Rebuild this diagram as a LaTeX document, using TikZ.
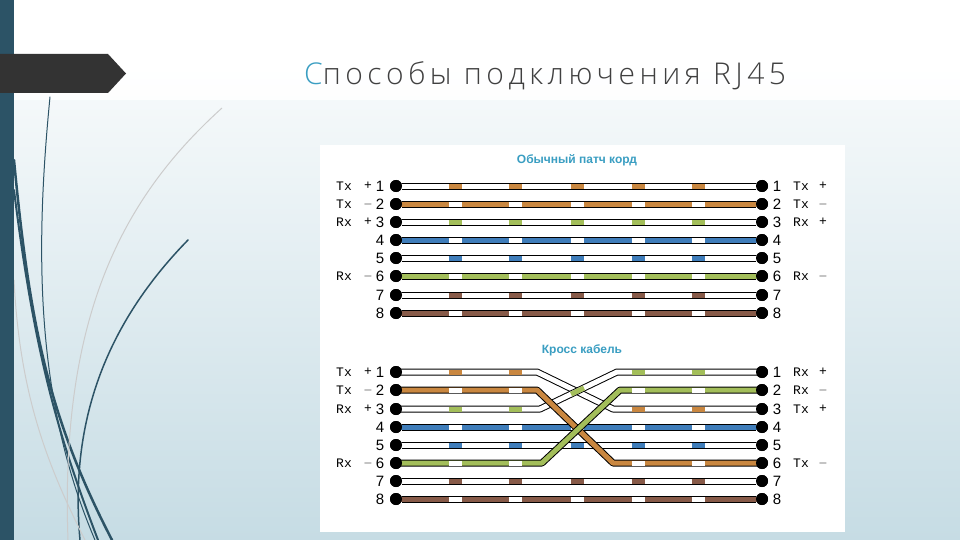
\documentclass[tikz,border=0pt]{standalone}
\usepackage{fontspec}
\setmainfont{Liberation Sans}
\newfontfamily\titlefont[LetterSpace=15]{Open Sans Light}
\newfontfamily\monof{Liberation Mono}
\definecolor{bgtop}{HTML}{FFFFFF}
\definecolor{bgbot}{HTML}{C6DCE4}
\definecolor{barcol}{HTML}{2C5366}
\definecolor{bannercol}{HTML}{333333}
\definecolor{teal}{HTML}{3A9EC2}
\definecolor{wor}{HTML}{C98740}
\definecolor{wgr}{HTML}{A3BE5A}
\definecolor{wbl}{HTML}{3F7DBA}
\definecolor{wbr}{HTML}{875A48}
\tikzset{
  pin/.style={circle,fill=black,inner sep=0pt,minimum size=12pt},
  outer/.style={black,line width=7pt,line join=round},
  inner/.style={line width=5pt,line join=round},
  lab/.style={font=\monof\fontsize{13}{13}\selectfont,inner sep=0pt},
  num/.style={font=\fontsize{15}{15}\selectfont,inner sep=0pt},
  ttl/.style={font=\bfseries\fontsize{12}{12}\selectfont,text=teal},
  leaf/.style={barcol,line cap=round},
}
\newcommand{\stripes}[3]{% y, color, list
  \foreach \sx in {#3} {\draw[inner,#2] (\sx-6.5,#1)--(\sx+6.5,#1);}}
\begin{document}
\begin{tikzpicture}[x=1pt,y=-1pt]
\useasboundingbox (0,0) rectangle (960,540);
\shade[top color=bgtop,bottom color=bgbot] (0,0) rectangle (960,540);
\fill[white] (0,0) rectangle (960,60);
\shade[top color=white,bottom color=white!97!bgbot] (0,60) rectangle (960,100);
% leaves
\draw[leaf,line width=1pt] (50,97) .. controls (35,250) and (35,400) .. (95,540);
\draw[leaf,line width=2.5pt] (14,160) .. controls (30,330) and (50,420) .. (112,540);
\draw[leaf,line width=2pt] (14,190) .. controls (35,360) and (60,440) .. (98,540);
\draw[leaf,line width=1.5pt] (188,240) .. controls (100,330) and (70,430) .. (80,540);
\draw[gray!40,line width=1pt] (222,108) .. controls (120,200) and (60,320) .. (68,540);
\draw[gray!40,line width=1pt] (14,280) .. controls (20,400) and (50,470) .. (85,540);
\fill[barcol] (0,0) rectangle (14,540);
\fill[bannercol] (0,54) -- (108,54) -- (126,73.5) -- (108,93) -- (0,93) -- cycle;
\node[anchor=base west,inner sep=0pt,font=\titlefont\fontsize{30}{30}\selectfont,text=black!75] (title) at (304,85) {{\color{teal}С}пособы подключения RJ45};
% panel
\fill[white] (320,145) rectangle (845,532);
\node[ttl] (t1) at (577,160) {Обычный патч корд};
\node[ttl] (t2) at (582,350) {Кросс кабель};
% straight cable
\foreach \i/\y/\base/\sc in {1/186/white/wor,2/204/wor/white,3/222/white/wgr,4/240/wbl/white,5/258/white/wbl,6/276/wgr/white,7/295/white/wbr,8/313/wbr/white}{
  \node[pin] (a\i) at (396,\y) {};
  \node[pin] (b\i) at (762,\y) {};
  \draw[outer] (a\i)--(b\i);
  \draw[inner,\base] (a\i.center)--(b\i.center);
  \stripes{\y}{\sc}{455,515,577,638,698}
  \node[pin] at (396,\y) {};
  \node[pin] at (762,\y) {};
  \node[num] at (380,\y) {\i};
  \node[num] at (777,\y) {\i};
}
% cross cable: straight rows
\foreach \i/\y/\base/\sc in {4/427/wbl/white,5/445/white/wbl,7/481/white/wbr,8/499/wbr/white}{
  \node[pin] (c\i) at (396,\y) {};
  \node[pin] (d\i) at (762,\y) {};
  \draw[outer] (c\i)--(d\i);
  \draw[inner,\base] (c\i.center)--(d\i.center);
  \stripes{\y}{\sc}{455,515,577,638,698}
}
\foreach \i/\y in {1/372,2/390,3/409,6/463}{
  \node[pin] (c\i) at (396,\y) {};
  \node[pin] (d\i) at (762,\y) {};
}
% crossing wires
\draw[outer] (c1.center)--(537,372)--(613,409)--(d3.center);
\draw[inner,white] (c1.center)--(537,372)--(613,409)--(d3.center);
\stripes{372}{wor}{455,515}\stripes{409}{wor}{638,698}
\draw[outer] (c3.center)--(540,409)--(617,372)--(d1.center);
\draw[inner,white] (c3.center)--(540,409)--(617,372)--(d1.center);
\stripes{409}{wgr}{455,515}\stripes{372}{wgr}{638,698}
\draw[inner,wgr] (571,394.2)--(584,388);
\draw[outer] (c2.center)--(537,390)--(613,463)--(d6.center);
\draw[inner,wor] (c2.center)--(537,390)--(613,463)--(d6.center);
\stripes{390}{white}{455,515}\stripes{463}{white}{638,698}
\draw[outer] (c6.center)--(542,463)--(620,390)--(d2.center);
\draw[inner,wgr] (c6.center)--(542,463)--(620,390)--(d2.center);
\stripes{463}{white}{455,515}\stripes{390}{white}{638,698}
\foreach \i/\y in {1/372,2/390,3/409,4/427,5/445,6/463,7/481,8/499}{
  \node[pin] at (396,\y) {};
  \node[pin] at (762,\y) {};
  \node[num] at (380,\y) {\i};
  \node[num] at (777,\y) {\i};
}
% labels
\foreach \y/\a/\s in {186/Tx/+,204/Tx/$-$,222/Rx/+,276/Rx/$-$,372/Tx/+,390/Tx/$-$,409/Rx/+,463/Rx/$-$}{
  \node[lab] at (344,\y) {\a};
  \node[lab] at (368,\y) {\s};
}
\foreach \y/\a/\s in {186/Tx/+,204/Tx/$-$,222/Rx/+,276/Rx/$-$,372/Rx/+,390/Rx/$-$,409/Tx/+,463/Tx/$-$}{
  \node[lab] at (801,\y) {\a};
  \node[lab] at (823,\y) {\s};
}
\end{tikzpicture}
\end{document}
